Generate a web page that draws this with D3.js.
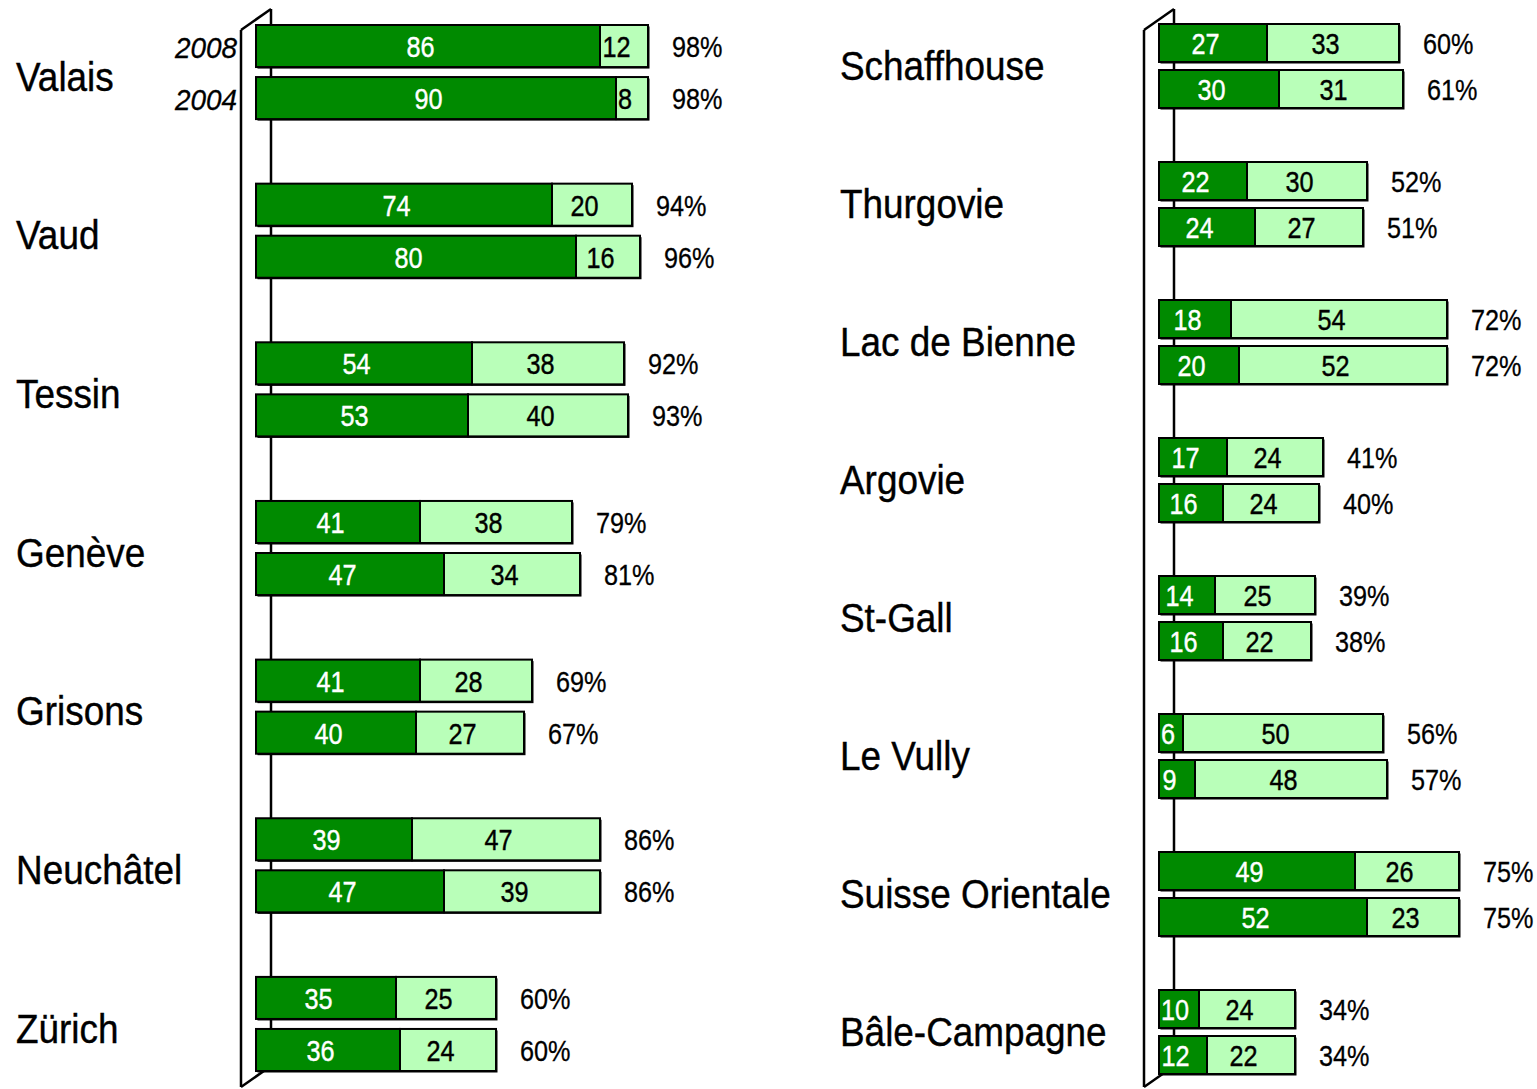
<!DOCTYPE html>
<html>
<head>
<meta charset="utf-8">
<script src="https://cdn.jsdelivr.net/npm/d3@7"></script>
<style>
  html, body { margin: 0; padding: 0; background: #fff; }
  svg { display: block; font-family: "Liberation Sans", Arial, sans-serif; }
</style>
</head>
<body>
<svg id="chart" width="1537" height="1089"></svg>
<script>
// ---- Data ----
const years = ["2008", "2004"];

const leftCategories = ["Valais", "Vaud", "Tessin", "Genève", "Grisons", "Neuchâtel", "Zürich"];
const leftDark2008  = [86, 74, 54, 41, 41, 39, 35];
const leftLight2008 = [12, 20, 38, 38, 28, 47, 25];
const leftTotal2008 = ["98%", "94%", "92%", "79%", "69%", "86%", "60%"];
const leftDark2004  = [90, 80, 53, 47, 40, 47, 36];
const leftLight2004 = [8, 16, 40, 34, 27, 39, 24];
const leftTotal2004 = ["98%", "96%", "93%", "81%", "67%", "86%", "60%"];

const rightCategories = ["Schaffhouse", "Thurgovie", "Lac de Bienne", "Argovie", "St-Gall", "Le Vully", "Suisse Orientale", "Bâle-Campagne"];
const rightDark2008  = [27, 22, 18, 17, 14, 6, 49, 10];
const rightLight2008 = [33, 30, 54, 24, 25, 50, 26, 24];
const rightTotal2008 = ["60%", "52%", "72%", "41%", "39%", "56%", "75%", "34%"];
const rightDark2004  = [30, 24, 20, 16, 16, 9, 52, 12];
const rightLight2004 = [31, 27, 52, 24, 22, 48, 23, 22];
const rightTotal2004 = ["61%", "51%", "72%", "40%", "38%", "57%", "75%", "34%"];

const darkColor = "#008a00";
const lightColor = "#b9ffb9";
const narrow = 0.87;   // horizontal squeeze to mimic a narrow face
const depth = 15;      // 3D depth of the axis wall

const svg = d3.select("#chart");

function buildRows(cats, d08, l08, t08, d04, l04, t04) {
  const rows = [];
  cats.forEach((c, i) => {
    rows.push({cat: c, year: "2008", dark: d08[i], light: l08[i], total: t08[i]});
    rows.push({cat: c, year: "2004", dark: d04[i], light: l04[i], total: t04[i]});
  });
  return rows;
}

function place(sel, fx, fy, s) {
  return sel.attr("x", 0).attr("y", 0)
    .attr("transform", (d, i) => `translate(${fx(d, i)},${fy(d, i)}) scale(${s},1)`);
}

function drawPanel(opts) {
  const {cats, rows, x0, yRange, groupBand, barGap, labelX, labelDy, showYears} = opts;
  const g = svg.append("g");

  const x = d3.scaleLinear().domain([0, 100]).range([x0, x0 + 400]);

  const yGroup = d3.scaleBand()
    .domain(cats)
    .range(yRange)
    .paddingInner((opts.groupStep - groupBand) / opts.groupStep)
    .paddingOuter(0);

  const ySub = d3.scaleBand()
    .domain(years)
    .range([0, yGroup.bandwidth()])
    .paddingInner(barGap / ((yGroup.bandwidth() + barGap) / 2))
    .paddingOuter(0);

  // 3D axis wall
  const fx = x0 - depth, bx = x0 + depth;
  const topBack = 9, topFront = 30;
  const botFront = 1087, botBack = 1066;
  const wall = g.append("g").attr("fill", "none").attr("stroke", "#000").attr("stroke-width", 2.5);
  wall.append("line").attr("x1", bx).attr("y1", topBack).attr("x2", bx).attr("y2", botBack);
  wall.append("line").attr("x1", fx).attr("y1", topFront).attr("x2", fx).attr("y2", botFront);
  wall.append("line").attr("x1", fx).attr("y1", topFront).attr("x2", bx).attr("y2", topBack);
  wall.append("line").attr("x1", fx).attr("y1", botFront).attr("x2", bx).attr("y2", botBack);

  const bars = g.selectAll("g.bar").data(rows).join("g").attr("class", "bar")
    .attr("transform", d => `translate(0,${yGroup(d.cat) + ySub(d.year)})`);
  const h = ySub.bandwidth();
  const vSize = 29;
  const vBase = h / 2 + 0.716 * vSize / 2 + 0.5;
  const digitW = 0.556 * vSize * narrow;
  // label centre: segment centre pulled left by half the depth, but kept inside the segment
  const labelPos = (a, b, v) => {
    const tw = String(v).length * digitW;
    return Math.max((x(a) + x(b)) / 2 - depth / 2, x(a) + tw / 2 + 2);
  };

  // shadow
  bars.append("rect")
    .attr("x", x(0) + 1.5).attr("y", 1.5)
    .attr("width", d => x(d.dark + d.light) - x(0))
    .attr("height", h)
    .attr("fill", "#000");
  // dark segment
  bars.append("rect")
    .attr("x", x(0)).attr("y", 0)
    .attr("width", d => x(d.dark) - x(0))
    .attr("height", h)
    .attr("fill", darkColor).attr("stroke", "#000").attr("stroke-width", 2);
  // light segment
  bars.append("rect")
    .attr("x", d => x(d.dark)).attr("y", 0)
    .attr("width", d => x(d.dark + d.light) - x(d.dark))
    .attr("height", h)
    .attr("fill", lightColor).attr("stroke", "#000").attr("stroke-width", 2);

  place(bars.append("text"), d => labelPos(0, d.dark, d.dark), () => vBase, narrow)
    .attr("text-anchor", "middle")
    .attr("fill", "#fff").attr("stroke", "#fff").attr("stroke-width", 0.4)
    .attr("font-size", vSize)
    .text(d => d.dark);
  place(bars.append("text"), d => labelPos(d.dark, d.dark + d.light, d.light), () => vBase, narrow)
    .attr("text-anchor", "middle")
    .attr("fill", "#000").attr("stroke", "#000").attr("stroke-width", 0.4)
    .attr("font-size", vSize)
    .text(d => d.light);
  place(bars.append("text"), d => x(d.dark + d.light) + 24, () => vBase, narrow)
    .attr("text-anchor", "start")
    .attr("fill", "#000").attr("stroke", "#000").attr("stroke-width", 0.3)
    .attr("font-size", vSize)
    .text(d => d.total);

  // category labels
  const cSize = 41;
  place(g.selectAll("text.cat").data(cats).join("text").attr("class", "cat"),
        () => labelX,
        d => yGroup(d) + yGroup.bandwidth() / 2 + labelDy + 0.716 * cSize / 2,
        0.9)
    .attr("font-size", cSize)
    .attr("fill", "#000").attr("stroke", "#000").attr("stroke-width", 0.4)
    .text(d => d);

  if (showYears) {
    const c0 = cats[0];
    const ySize = 30;
    place(g.selectAll("text.yr").data(years).join("text").attr("class", "yr"),
          () => x0 - 19,
          d => yGroup(c0) + ySub(d) + h / 2 + 0.716 * ySize / 2 + 1,
          0.93)
      .attr("text-anchor", "end")
      .attr("font-size", ySize).attr("font-style", "italic")
      .attr("stroke", "#000").attr("stroke-width", 0.3)
      .text(d => d);
  }
}

drawPanel({
  cats: leftCategories,
  rows: buildRows(leftCategories, leftDark2008, leftLight2008, leftTotal2008, leftDark2004, leftLight2004, leftTotal2004),
  x0: 256, yRange: [25, 1071], groupBand: 94, groupStep: 158.5, barGap: 10,
  labelX: 16, labelDy: 4, showYears: true
});

drawPanel({
  cats: rightCategories,
  rows: buildRows(rightCategories, rightDark2008, rightLight2008, rightTotal2008, rightDark2004, rightLight2004, rightTotal2004),
  x0: 1159, yRange: [24, 1074], groupBand: 84, groupStep: 138, barGap: 8,
  labelX: 840, labelDy: -1, showYears: false
});
</script>
</body>
</html>
